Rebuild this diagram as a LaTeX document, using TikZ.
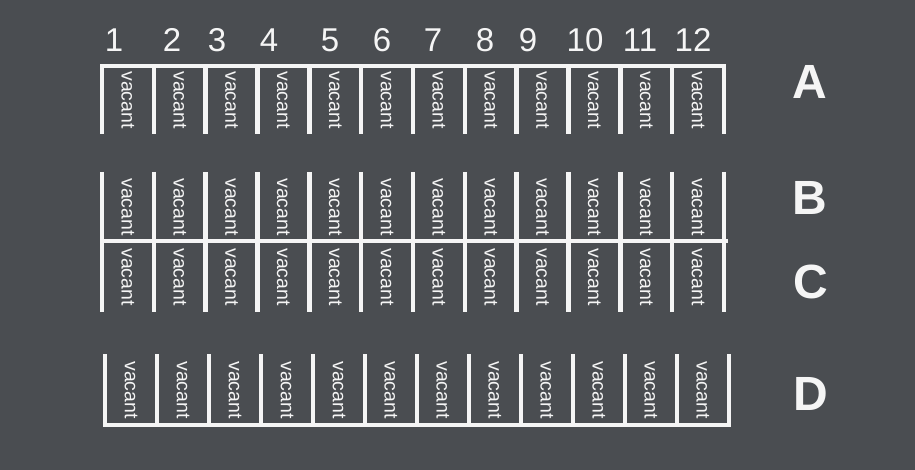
\documentclass[tikz,border=0pt]{standalone}
\usepackage{fontspec}
\setmainfont{Liberation Sans}
\usepackage{tikz}
\definecolor{asphalt}{HTML}{4A4D51}
\definecolor{paint}{HTML}{F5F5F5}

\begin{document}
\begin{tikzpicture}[
  x=1pt,y=-1pt,
  lane/.style={draw=paint,line width=4.5pt},
  stall/.style={text=paint,rotate=-90,inner sep=0pt,font=\fontsize{19.5}{20}\selectfont},
  num/.style={text=paint,inner sep=0pt,font=\fontsize{33}{33}\selectfont},
  rowlbl/.style={text=paint,inner sep=0pt,font=\fontsize{48}{48}\selectfont\bfseries}
]
\fill[asphalt] (0,0) rectangle (915,470);
\draw[lane] (102,134) -- (102,66) -- (724,66) -- (724,134);
\draw[lane] (100,241) -- (728,241);
\draw[lane] (105,354) -- (105,425) -- (729,425) -- (729,354);
\foreach \i in {0,...,12} {
  \ifnum\i>0 \ifnum\i<12 \draw[lane] ({102+\i*51.83},66) -- ++(0,68); \fi\fi
  \draw[lane] ({102+\i*51.83},172) -- ++(0,140);
  \ifnum\i>0 \ifnum\i<12 \draw[lane] ({105+\i*51.99},354) -- ++(0,71); \fi\fi
}
\foreach \i in {1,...,12} {
  \node[stall] (a\i) at ({102+(\i-0.5)*51.83},100) {vacant};
  \node[stall] (b\i) at ({102+(\i-0.5)*51.83},207) {vacant};
  \node[stall] (c\i) at ({102+(\i-0.5)*51.83},277) {vacant};
  \node[stall] (d\i) at ({105+(\i-0.5)*51.99},390) {vacant};
}
\foreach \n/\x in {1/114,2/172,3/217,4/269,5/330,6/382,7/433,8/485,9/528,10/585,11/640,12/693}
  \node[num] (n\n) at (\x,40) {\n};
\node[rowlbl] (rowA) at (810,82) {A};
\node[rowlbl] (rowB) at (810,198) {B};
\node[rowlbl] (rowC) at (811,282) {C};
\node[rowlbl] (rowD) at (811,394) {D};
\end{tikzpicture}
\end{document}
